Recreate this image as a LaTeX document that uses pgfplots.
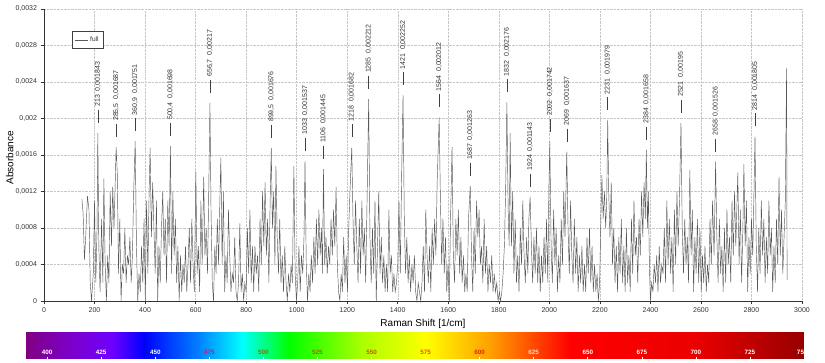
\documentclass[border=0pt]{standalone}
\usepackage{pgfplots}
\pgfplotsset{compat=1.18}
\usepackage{pgfplotstable}
\usepackage{fontspec}
\setmainfont{Liberation Sans}

\definecolor{c475}{RGB}{170,40,130}
\definecolor{c500}{RGB}{120,120,0}
\definecolor{c525}{RGB}{150,110,0}
\definecolor{c550}{RGB}{200,90,0}
\definecolor{c575}{RGB}{220,90,0}
\definecolor{c600}{RGB}{225,40,0}
\definecolor{c625}{RGB}{255,215,190}

\pgfplotstableread[col sep=semicolon]{
x;y;label
213;0.001843;213\ \ 0,001843
285.5;0.001687;285,5\ \ 0,001687
360.9;0.001751;360,9\ \ 0,001751
500.4;0.001698;500,4\ \ 0,001698
656.7;0.00217;656,7\ \ 0,00217
899.5;0.001676;899,5\ \ 0,001676
1033;0.001537;1033\ \ 0,001537
1106;0.001445;1106\ \ 0,001445
1218;0.001682;1218\ \ 0,001682
1285;0.002212;1285\ \ 0,002212
1421;0.002252;1421\ \ 0,002252
1564;0.002012;1564\ \ 0,002012
1687;0.001263;1687\ \ 0,001263
1832;0.002176;1832\ \ 0,002176
1924;0.001143;1924\ \ 0,001143
2002;0.001742;2002\ \ 0,001742
2069;0.001637;2069\ \ 0,001637
2231;0.001979;2231\ \ 0,001979
2384;0.001658;2384\ \ 0,001658
2521;0.00195;2521\ \ 0,00195
2658;0.001526;2658\ \ 0,001526
2814;0.001805;2814\ \ 0,001805
}\peaks

\begin{document}
\begin{tikzpicture}
\path[use as bounding box] (0,0) rectangle (825pt,363pt);

\begin{axis}[
  at={(44pt,62pt)}, anchor=south west,
  scale only axis, width=758pt, height=292pt,
  xmin=0, xmax=3000, ymin=0, ymax=0.0032,
  xtick={0,200,...,3000},
  ytick={0,0.0004,0.0008,0.0012,0.0016,0.002,0.0024,0.0028,0.0032},
  scaled y ticks=false,
  /pgf/number format/assume math mode=true,
  yticklabel style={/pgf/number format/.cd, fixed, precision=4, use comma},
  xticklabel style={/pgf/number format/1000 sep={}},
  tick label style={font=\fontsize{7}{8}\selectfont, text=black!80},
  axis x line*=bottom, axis y line*=left,
  axis line style={black!80, line width=0.8pt},
  tick style={black!80, line width=0.6pt},
  tick align=outside, major tick length=3.5pt,
  grid=major, grid style={densely dotted, gray!45, line width=0.4pt},
  clip=false,
  xlabel={Raman Shift [1/cm]}, ylabel={Absorbance},
  label style={font=\fontsize{7}{8}\selectfont, text=black!80},
  every axis x label/.style={at={(axis description cs:0.5,-0.079)}, anchor=center},
  every axis y label/.style={at={(axis description cs:-0.045,0.49)}, anchor=center, rotate=90},
  legend style={at={(axis description cs:0.037,0.925)}, anchor=north west,
    draw=black!75, line width=0.5pt, font=\fontsize{6.5}{7}\selectfont, text=black!80,
    inner xsep=2.5pt, inner ysep=3.5pt},
  legend image code/.code={\draw[#1] (0pt,0pt) -- (13pt,0pt);},
]
\addplot[black!65, line width=0.45pt] coordinates {
(150,0.00112) (155,0.00095) (160,0.00045) (165,0.0007) (172,0.00115) (178,0.001) (183,0.0002) (188,0)
(195,0.0003) (200,0.0011) (205,0.0002) (210,0.0008) (213,0.001843) (217,0.0006) (222,0.0001) (228,0.0009)
(233,0.0002) (237,0.00134) (242,0.0004) (247,0) (252,0.0005) (257,0.0002) (262,0.0012) (267,0.0006)
(272,0.00125) (277,0.0008) (281,0.0012) (285.5,0.001687) (290,0.0014) (295,0.0003) (300,0.0009) (305,0)
(310,0.0004) (315,0.0003) (320,0.0008) (325,0.0002) (330,0.0005) (335,0.0004) (340,0.0007) (345,0.0002)
(350,0.0005) (355,0.0012) (360.9,0.001751) (366,0.0006) (371,0) (376,0.0003) (381,0.0001) (386,0.0006)
(391,0.0002) (396,0.0009) (401,0) (406,0.0011) (411,0.0003) (416,0.0012) (420,0.00168) (425,0.0007)
(430,0.0013) (435,0.0008) (440,0.0003) (445,0.0011) (450,0) (455,0.0006) (460,0.0002) (465,0.0008)
(470,0.0012) (475,0.0005) (480,0.0009) (485,0.0002) (490,0.0011) (495,0.0006) (500.4,0.001698) (505,0.0003)
(510,0.0012) (515,0.0005) (520,0.0009) (525,0.0002) (530,0.0006) (535,0) (540,0.0005) (545,0.0001)
(550,0.0004) (555,0.0002) (560,0.0006) (565,0.0001) (570,0.0004) (575,0.0008) (580,0.0002) (585,0.0009)
(590,0.0004) (595,0.0001) (601,0.00142) (606,0.0003) (611,0.0006) (616,0.0001) (621,0.0011) (626,0.0004)
(632,0.00136) (637,0.0005) (642,0.0008) (647,0.0003) (652,0.0012) (656.7,0.00217) (661,0.001) (666,0.0002)
(671,0) (676,0.0006) (681,0.0003) (686,0.0009) (691,0.0004) (696,0.0011) (700,0.00157) (705,0.0004)
(710,0.0012) (715,0.0001) (720,0.0005) (725,0.0002) (730,0.001) (735,0.0005) (740,0.0001) (745,0.0003)
(750,0.0002) (755,0.0007) (760,0.0001) (765,0) (770,0.0002) (775,0.00085) (780,0.0001) (785,0.0003)
(790,0) (795,0.0002) (800,0.0001) (805,0.0008) (810,0.0003) (815,0.001) (820,0.0002) (825,0.0006)
(830,0.0001) (835,0.0006) (840,0.0003) (845,0.0005) (850,0.0001) (855,0.0009) (860,0.0004) (865,0.0012)
(870,0.0006) (875,0.0013) (880,0.0005) (885,0.0009) (890,0.0002) (895,0.0011) (899.5,0.001676) (904,0.0008)
(909,0.0012) (914,0.0004) (918,0.00148) (923,0.0007) (928,0.0003) (933,0.0009) (938,0.0002) (943,0.0005)
(948,0.0001) (953,0.0006) (958,0.0002) (963,0) (968,0.0003) (973,0.0001) (978,0.0004) (983,0.0002)
(989,0.00148) (994,0.0003) (999,0) (1004,0.0002) (1009,0.0006) (1014,0.0001) (1019,0.0005) (1024,0.0003)
(1029,0.0007) (1033,0.001537) (1038,0.0004) (1043,0) (1048,0.0003) (1053,0.0001) (1058,0.0005) (1063,0.0002)
(1068,0.0007) (1073,0.0003) (1078,0.0009) (1083,0.0004) (1088,0.001) (1093,0.0005) (1098,0.0008) (1102,0.0003)
(1106,0.001445) (1111,0.0004) (1116,0.0007) (1121,0.0003) (1126,0.0006) (1131,0.0004) (1136,0.0009) (1141,0.0005)
(1146,0.001) (1151,0.0006) (1156,0.00125) (1161,0.0004) (1166,0.0001) (1171,0) (1176,0.0003) (1181,0.0001)
(1186,0.0007) (1191,0.0002) (1196,0.0005) (1201,0.0001) (1206,0.0008) (1211,0.0012) (1218,0.001682) (1223,0.0009)
(1228,0.0004) (1233,0.0011) (1238,0.0006) (1243,0.0002) (1248,0.0009) (1253,0.0003) (1258,0.0011) (1263,0.0005)
(1268,0.0008) (1273,0.0002) (1278,0.001) (1285,0.002212) (1290,0.0007) (1295,0.0002) (1300,0.0008) (1305,0.0003)
(1310,0.0011) (1315,0) (1320,0.0006) (1325,0.0012) (1330,0.0003) (1335,0.0007) (1340,0.0002) (1345,0.0005)
(1350,0.0001) (1355,0.0004) (1360,0.0001) (1365,0.001) (1370,0.0003) (1375,0.0005) (1380,0.0001) (1385,0.0003)
(1390,0.0001) (1395,0.0002) (1400,0.0004) (1405,0.0011) (1410,0.0003) (1415,0.0013) (1421,0.002252) (1426,0.0009)
(1431,0.0003) (1436,0.0007) (1441,0.0002) (1446,0.0005) (1451,0.0001) (1456,0.0004) (1461,0.0002) (1466,0.0005)
(1471,0.0001) (1476,0) (1481,0.0002) (1486,0.0001) (1491,0) (1496,0.0002) (1501,0.0006) (1506,0.0001)
(1511,0.001) (1516,0.0005) (1521,0.0002) (1526,0.0006) (1531,0.0001) (1536,0.0008) (1541,0.0004) (1546,0.0009)
(1551,0.0005) (1556,0.0013) (1564,0.002012) (1569,0.0011) (1574,0.0004) (1579,0.0009) (1584,0.0003) (1589,0.0007)
(1594,0.0001) (1599,0.0004) (1604,0) (1609,0.0009) (1615,0.00169) (1620,0.0005) (1625,0.0002) (1630,0.0009)
(1635,0.0005) (1640,0.001) (1645,0.0003) (1650,0.0007) (1655,0.0002) (1660,0.0005) (1665,0.0001) (1670,0.0003)
(1675,0.0001) (1680,0.0009) (1687,0.001263) (1692,0.0005) (1697,0.0001) (1702,0.0008) (1707,0.0003) (1712,0.0011)
(1717,0.0007) (1722,0.001) (1727,0.0004) (1732,0.0006) (1737,0.0002) (1742,0.0009) (1747,0.0003) (1752,0.0006)
(1757,0.0001) (1762,0.0004) (1767,0.0002) (1772,0.0005) (1777,0.0001) (1782,0.0003) (1787,0.0001) (1792,0.0002)
(1797,0) (1802,0.0001) (1807,0) (1812,0.0001) (1817,0.0003) (1822,0.0006) (1827,0.0012) (1832,0.002176)
(1837,0.001) (1841,0.0006) (1845,0.00184) (1850,0.0006) (1855,0.0012) (1860,0.0003) (1865,0.0009) (1870,0.0002)
(1875,0.0005) (1880,0.0001) (1885,0.0008) (1890,0.0004) (1895,0.0011) (1900,0.0005) (1905,0.0002) (1910,0.0007)
(1915,0.0003) (1919,0.0009) (1924,0.001143) (1929,0.0006) (1934,0.0002) (1939,0.0007) (1944,0.0003) (1949,0.0008)
(1954,0.0002) (1959,0.0006) (1964,0.0001) (1969,0.0005) (1974,0.0002) (1979,0.0007) (1984,0.0003) (1989,0.0009)
(1994,0.0002) (1998,0.0012) (2002,0.001742) (2007,0.0006) (2012,0.0002) (2017,0.001) (2022,0.0004) (2027,0.0008)
(2032,0.0001) (2037,0.0005) (2042,0.0002) (2047,0.0009) (2052,0.0004) (2057,0.0012) (2062,0.0007) (2069,0.001637)
(2074,0.0008) (2079,0.0003) (2084,0.0011) (2089,0.0005) (2094,0.0002) (2099,0.0009) (2104,0.0003) (2109,0.0007)
(2114,0.0001) (2119,0.0005) (2124,0.0002) (2129,0.0006) (2134,0.0001) (2139,0.0004) (2144,0.0001) (2149,0.0007)
(2154,0.0003) (2159,0.0008) (2164,0.0002) (2169,0.0006) (2174,0.0001) (2179,0.0004) (2184,0.0001) (2189,0.0003)
(2194,0) (2199,0.0002) (2204,0.0009) (2208,0.00138) (2213,0.0009) (2218,0.0012) (2223,0.0008) (2227,0.0011)
(2231,0.001979) (2235,0.0012) (2240,0.0007) (2245,0.0013) (2250,0.0004) (2255,0.0008) (2260,0.0002) (2265,0.0006)
(2270,0.0001) (2275,0.0007) (2280,0.0003) (2285,0.0009) (2290,0.0002) (2295,0.0006) (2300,0.0001) (2305,0.0008)
(2310,0.0002) (2315,0.0005) (2320,0.0001) (2325,0.0009) (2330,0.0003) (2335,0.0011) (2340,0.0005) (2345,0.0007)
(2350,0.0002) (2355,0.0009) (2360,0.0005) (2365,0.0012) (2370,0.0007) (2375,0.0013) (2380,0.0009) (2384,0.001658)
(2388,0.0008) (2392,0.0012) (2396,0.0004) (2400,0) (2405,0.0002) (2410,0.0001) (2415,0.0004) (2420,0.0002)
(2425,0.0005) (2430,0.0001) (2435,0.0006) (2440,0.0002) (2445,0.0004) (2450,0.0003) (2455,0.0008) (2460,0.0002)
(2465,0.0011) (2470,0.0004) (2475,0.0009) (2480,0.0003) (2485,0.0007) (2490,0.0001) (2495,0.001) (2500,0.0004)
(2505,0.0012) (2510,0.0006) (2515,0.0011) (2521,0.00195) (2526,0.0008) (2531,0.0003) (2536,0.0009) (2541,0.0004)
(2546,0.0007) (2551,0.0002) (2556,0.00144) (2561,0.0005) (2566,0.001) (2571,0.0001) (2576,0.0007) (2581,0.0003)
(2586,0.0009) (2591,0.0002) (2596,0.0008) (2601,0.0001) (2606,0.0005) (2611,0.0002) (2616,0.0006) (2621,0.0001)
(2626,0.0004) (2631,0.0002) (2636,0.0009) (2641,0.0004) (2646,0.0011) (2652,0.0005) (2658,0.001526) (2663,0.0007)
(2668,0.0002) (2673,0.0009) (2678,0.0003) (2683,0.0006) (2688,0.0001) (2693,0.0008) (2698,0.0002) (2703,0.001)
(2708,0.0004) (2713,0.0007) (2718,0.0002) (2723,0.0011) (2728,0.0005) (2733,0.0012) (2738,0.0006) (2746,0.00141)
(2751,0.0004) (2756,0.001) (2761,0.0002) (2766,0.0008) (2770,0.0015) (2775,0.0006) (2780,0.0011) (2785,0.0001)
(2790,0.0007) (2795,0.0003) (2800,0.0009) (2805,0.0005) (2810,0.0012) (2814,0.001805) (2819,0.0006) (2824,0.0001)
(2829,0.0008) (2834,0.0003) (2839,0.0011) (2844,0.0005) (2849,0.0009) (2854,0.0002) (2859,0.0007) (2864,0.0003)
(2869,0.0011) (2874,0.0005) (2879,0.0008) (2884,0.0001) (2889,0.0006) (2894,0.0002) (2899,0.0009) (2904,0.0004)
(2909,0.00136) (2914,0.0005) (2919,0.001) (2924,0.0003) (2929,0.0007) (2934,0.0011) (2939,0.00255) (2941,0.00023)
};
\addlegendentry{full}
% peak markers
\addplot[forget plot, only marks, mark=|, mark size=6.5pt, mark options={black!75, line width=0.45pt}]
  table[x=x, y expr=\thisrow{y}+0.000181]{\peaks};
% peak labels
\addplot[forget plot, draw=none, mark=none, nodes near coords, point meta=explicit symbolic,
  nodes near coords style={rotate=90, anchor=west, inner sep=0pt, font=\fontsize{7}{8}\selectfont, text=black!80}]
  table[x=x, y expr=\thisrow{y}+0.000285, meta=label]{\peaks};
\end{axis}

\begin{axis}[
  at={(26pt,4pt)}, anchor=south west,
  scale only axis, width=778pt, height=27pt,
  xmin=390.2, xmax=750, ymin=0, ymax=1,
  axis on top=true,
  axis line style={draw=none},
  ytick=\empty,
  xtick={400,425,...,750},
  xticklabels={\textcolor{white}{400},\textcolor{white}{425},\textcolor{white}{450},\textcolor{c475}{475},
    \textcolor{c500}{500},\textcolor{c525}{525},\textcolor{c550}{550},\textcolor{c575}{575},\textcolor{c600}{600},
    \textcolor{c625}{625},\textcolor{white}{650},\textcolor{white}{675},\textcolor{white}{700},\textcolor{white}{725},
    \textcolor{white}{\makebox[0pt][r]{75}}},
  xtick pos=bottom,
  tick align=inside, major tick length=2pt,
  xtick style={white, line width=0.6pt},
  xticklabel style={font=\fontsize{6.3}{7}\selectfont\bfseries, anchor=center, yshift=6.2pt},
  colormap={spec}{rgb255(390pt)=(128,0,128) rgb255(410pt)=(125,0,200) rgb255(430pt)=(110,0,255)
    rgb255(445pt)=(0,0,255) rgb255(470pt)=(0,130,255) rgb255(490pt)=(0,255,255) rgb255(512pt)=(0,255,0)
    rgb255(545pt)=(170,255,0) rgb255(575pt)=(255,255,0) rgb255(605pt)=(255,160,0) rgb255(642pt)=(255,0,0)
    rgb255(700pt)=(235,0,0) rgb255(750pt)=(150,0,0)},
  point meta min=390, point meta max=750,
]
\addplot[surf, shader=interp, mesh/rows=2, point meta=x] coordinates {
(390.2,0) (410,0) (430,0) (445,0) (470,0) (490,0) (512,0) (545,0) (575,0) (605,0) (642,0) (700,0) (750,0)
(390.2,1) (410,1) (430,1) (445,1) (470,1) (490,1) (512,1) (545,1) (575,1) (605,1) (642,1) (700,1) (750,1)
};
\end{axis}
\end{tikzpicture}
\end{document}
